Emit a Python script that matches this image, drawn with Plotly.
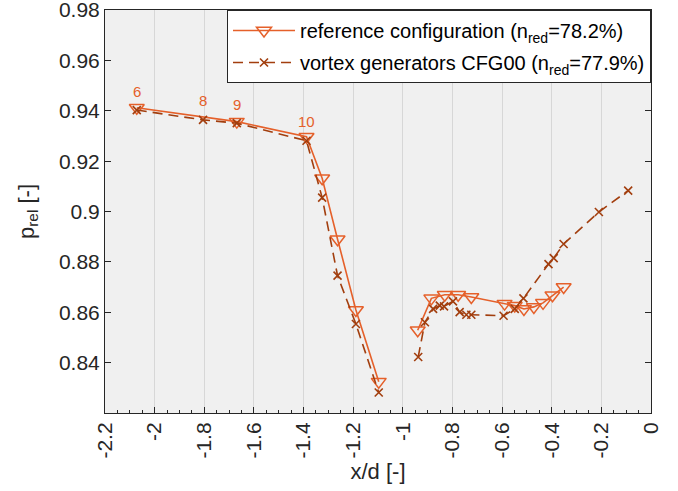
import plotly.graph_objects as go

# Reference configuration (triangles)
ref_x = [-2.072, -1.669, -1.388, -1.325, -1.263, -1.189, -1.097, None,
         -0.940, -0.885, -0.831, -0.777, -0.724, -0.590, -0.549, -0.512,
         -0.472, -0.435, -0.397, -0.352]
ref_y = [0.9412, 0.9357, 0.9297, 0.9132, 0.8890, 0.8609, 0.8324, None,
         0.8528, 0.8655, 0.8669, 0.8669, 0.8660, 0.8634, 0.8626, 0.8613,
         0.8621, 0.8637, 0.8667, 0.8700]

# Vortex generators CFG00 (x markers)
vg_x = [-2.072, -1.805, -1.669, -1.388, -1.325, -1.263, -1.189, -1.097, None,
        -0.938, -0.911, -0.878, -0.851, -0.834, -0.798, -0.771, -0.744, -0.724,
        -0.594, -0.549, -0.514, -0.413, -0.392, -0.352, -0.210, -0.092]
vg_y = [0.9403, 0.9364, 0.9351, 0.9281, 0.9055, 0.8745, 0.8553, 0.8281, None,
        0.8422, 0.8560, 0.8613, 0.8626, 0.8623, 0.8643, 0.8600, 0.8590, 0.8590,
        0.8586, 0.8613, 0.8655, 0.8791, 0.8815, 0.8871, 0.8998, 0.9083]

# Tap number labels (index into vg arrays)
tap_labels = ["6", "8", "9", "10"]
tap_index = [0, 1, 2, 3]

x_tickvals = [-2.2, -2.0, -1.8, -1.6, -1.4, -1.2, -1.0, -0.8, -0.6, -0.4, -0.2, 0.0]
x_ticktext = ["-2.2", "-2", "-1.8", "-1.6", "-1.4", "-1.2", "-1", "-0.8", "-0.6", "-0.4", "-0.2", "0"]
y_tickvals = [0.84, 0.86, 0.88, 0.90, 0.92, 0.94, 0.96, 0.98]
y_ticktext = ["0.84", "0.86", "0.88", "0.9", "0.92", "0.94", "0.96", "0.98"]

C_REF = "#E5602A"
C_VG = "#A23E0E"
FONT = "Liberation Sans, Arial, sans-serif"

fig = go.Figure()
fig.add_trace(go.Scatter(
    x=ref_x, y=ref_y, mode="lines+markers",
    name="reference configuration (n<sub>red</sub>=78.2%)",
    legendgroup="ref",
    line=dict(color=C_REF, width=1.6),
    marker=dict(symbol="triangle-down-open", size=13, color=C_REF, line=dict(width=1.5, color=C_REF)),
    connectgaps=False,
))
fig.add_trace(go.Scatter(
    x=vg_x, y=vg_y, mode="lines+markers",
    name="vortex generators CFG00 (n<sub>red</sub>=77.9%)",
    legendgroup="vg",
    line=dict(color=C_VG, width=1.6, dash="10px,6px"),
    marker=dict(symbol="x-thin-open", size=8, color=C_VG, line=dict(width=1.6, color=C_VG)),
    connectgaps=False,
))

for lab, i in zip(tap_labels, tap_index):
    fig.add_annotation(x=vg_x[i], y=vg_y[i], text=lab, showarrow=False,
                       yshift=19, font=dict(family=FONT, size=15, color=C_REF))

fig.update_layout(
    width=678, height=491,
    margin=dict(l=105, r=27, t=10, b=78),
    paper_bgcolor="white", plot_bgcolor="#F0F0F0",
    font=dict(family=FONT, size=20, color="#262626"),
    showlegend=True,
    legend=dict(x=1, y=1, xanchor="right", yanchor="top",
                bgcolor="white", bordercolor="#262626", borderwidth=1,
                font=dict(family=FONT, size=20, color="#000000"),
                tracegroupgap=3, itemwidth=62),
)
fig.update_xaxes(
    range=[-2.2, 0], tickvals=x_tickvals, ticktext=x_ticktext, tickangle=-90,
    automargin=False,
    showgrid=True, gridcolor="#D7D7D7", gridwidth=1, zeroline=False,
    showline=True, linecolor="#262626", linewidth=1, mirror=True,
    ticks="inside", ticklen=6, tickcolor="#262626",
    minor=dict(dtick=0.05, tick0=0, ticks="inside", ticklen=3, tickcolor="#262626", showgrid=False),
    title=dict(text="x/d [-]", font=dict(family=FONT, size=22, color="#262626"), standoff=4),
    tickfont=dict(family=FONT, size=21, color="#262626"),
    ticklabeloverflow="allow",
)
fig.update_yaxes(
    range=[0.81995, 0.98005], tickvals=y_tickvals, ticktext=y_ticktext,
    automargin=False,
    showgrid=False, zeroline=False,
    showline=True, linecolor="#262626", linewidth=1, mirror="ticks",
    ticks="inside", ticklen=6, tickcolor="#262626",
    title=dict(text="p<sub>rel</sub> [-]", font=dict(family=FONT, size=22, color="#262626"), standoff=18),
    tickfont=dict(family=FONT, size=21, color="#262626"),
    ticklabeloverflow="allow",
)

fig.write_html("out.html", config={"displayModeBar": False},
               post_script="document.body.style.margin='0px';")
